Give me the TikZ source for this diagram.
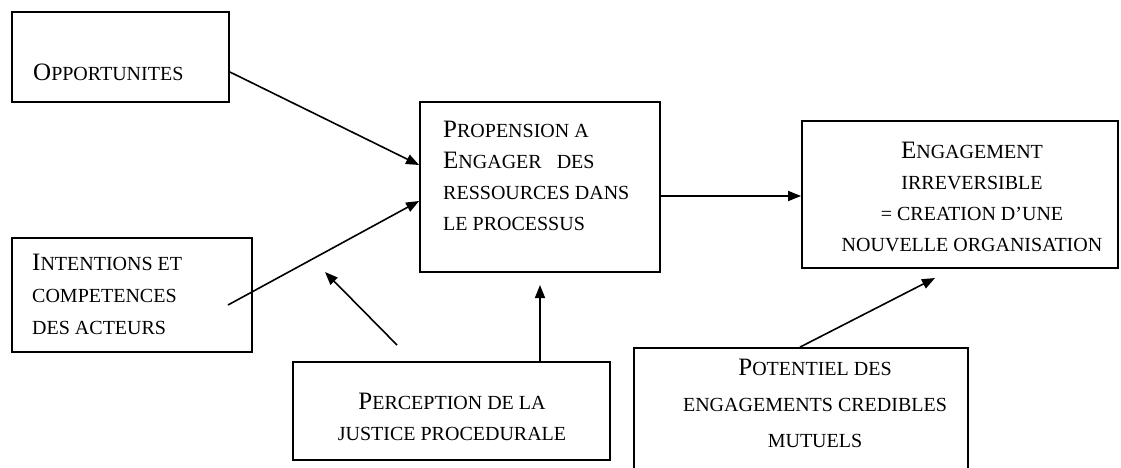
\documentclass[tikz,border=0pt]{standalone}
\usepackage{fontspec}
\setmainfont{Liberation Serif}
\usetikzlibrary{arrows.meta}
% small-capital look: a full-size initial, the rest in smaller capitals
\newcommand\Ini[1]{{\fontsize{25}{31}\selectfont #1}}
\begin{document}
\begin{tikzpicture}[x=1pt,y=-1pt,
  box/.style={draw, line width=1.8pt, inner sep=0pt},
  lbl/.style={inner sep=0pt, font=\fontsize{20}{31}\selectfont},
  arr/.style={line width=1.6pt, -{Triangle[length=13pt,width=10pt]}}]
\useasboundingbox (0,0) rectangle (1121,468);

% boxes (centre, width, height in px)
\node[box, minimum width=217pt, minimum height=90pt]  (opp)  at (120.5,57)    {};
\node[box, minimum width=240pt, minimum height=170pt] (prop) at (540,187)     {};
\node[box, minimum width=316pt, minimum height=147pt] (eng)  at (960,194.5)   {};
\node[box, minimum width=240pt, minimum height=114pt] (int)  at (132,295)     {};
\node[box, minimum width=317pt, minimum height=98pt]  (just) at (451.5,411)   {};
\node[box, minimum width=334pt, minimum height=127pt] (pot)  at (801,411.5)   {};

% texts
\node[lbl, anchor=west] (oppT) at (33,72) {\Ini{O}PPORTUNITES};
\node[lbl, anchor=west, align=left] (propT) at (443,176)
  {\Ini{P}ROPENSION A\\\Ini{E}NGAGER~~~DES\\RESSOURCES DANS\\LE PROCESSUS};
\node[lbl, align=center] (engT) at (972,197)
  {\Ini{E}NGAGEMENT\\IRREVERSIBLE\\= CREATION D’UNE\\NOUVELLE ORGANISATION};
\node[lbl, anchor=west, align=left, font=\fontsize{20}{32}\selectfont] (intT) at (32,294)
  {\Ini{I}NTENTIONS ET\\COMPETENCES\\DES ACTEURS};
\node[lbl, align=center] (justT) at (452,417)
  {\Ini{P}ERCEPTION DE LA\\JUSTICE PROCEDURALE};
\node[lbl, align=center, font=\fontsize{20}{36}\selectfont] (potT) at (815,403)
  {\Ini{P}OTENTIEL DES\\ENGAGEMENTS CREDIBLES\\MUTUELS};

% free connector ends
\coordinate (intS) at (228,305);
\coordinate (jS)   at (397,345);
\coordinate (jE)   at (325,272);
\coordinate (pE)   at (540,285);
\coordinate (eE)   at (935,278);

% connectors
\draw[arr] (opp.east |- 0,72) -- (prop.west |- 0,165);
\draw[arr] (intS) -- (prop.west |- 0,201);
\draw[arr] (jS) -- (jE);
\draw[arr] (just.north -| pE) -- (pE);
\draw[arr] (prop.east |- 0,196) -- (eng.west |- 0,196);
\draw[arr] (pot.north -| 800,0) -- (eE);
\end{tikzpicture}
\end{document}
